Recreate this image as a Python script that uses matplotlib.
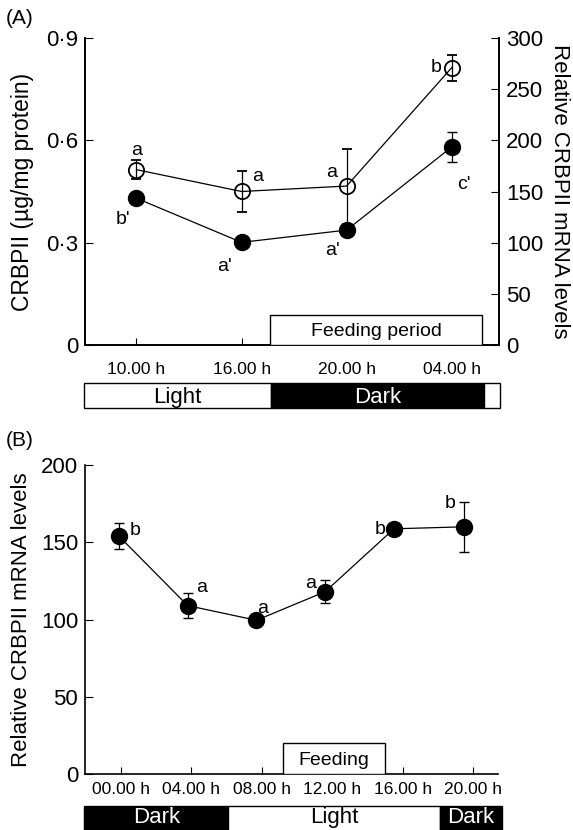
import matplotlib
matplotlib.use("Agg")
import matplotlib.pyplot as plt
from matplotlib.patches import Rectangle

plt.rcParams['font.family'] = ['Liberation Sans', 'DejaVu Sans']
plt.rcParams['font.size'] = 12

# Panel A data
a_times = ['10.00 h', '16.00 h', '20.00 h', '04.00 h']
a_protein = [0.514, 0.450, 0.466, 0.813]
a_protein_err = [0.027, 0.060, 0.110, 0.038]
a_protein_letters = ['a', 'a', 'a', 'b']
a_mrna = [143.4, 100.3, 112.3, 193.5]
a_mrna_err = [0, 0, 0, 15]
a_mrna_letters = ["b'", "a'", "a'", "c'"]
a_feeding = (1.27, 3.29, 29)          # start, end (category units), height (right axis)
a_light_dark = [(-0.5, 1.28, 'Light'), (1.28, 3.31, 'Dark'), (3.31, 3.46, '')]

# Panel B data
b_hours = [0, 4, 8, 12, 16, 20]
b_pos = [-0.1, 3.8, 7.7, 11.6, 15.5, 19.5]
b_mrna = [154, 109, 99.5, 118, 158.7, 160]
b_err = [8.5, 8.3, 0, 7.5, 0, 16]
b_letters = ['b', 'a', 'a', 'a', 'b', 'b']
b_feeding = (9.2, 15.0, 20)
b_light_dark = [(-2.05, 6.1, 'Dark'), (6.1, 18.1, 'Light'), (18.1, 21.6, 'Dark')]

W, H = 573, 830
fig = plt.figure(figsize=(W / 100, H / 100), dpi=100)


def fig_rect(x0, y0, x1, y1):
    return [x0 / W, 1 - y1 / H, (x1 - x0) / W, (y1 - y0) / H]


def day_bar(rect, xlim, segments, text_y=0.45):
    bx = fig.add_axes(rect)
    bx.set_xlim(*xlim)
    bx.set_ylim(0, 1)
    bx.axis('off')
    for x0, x1, name in segments:
        dark = name == 'Dark'
        bx.add_patch(Rectangle((x0, 0), x1 - x0, 1, facecolor='black' if dark else 'white',
                               edgecolor='black', linewidth=1, clip_on=False))
        if name:
            bx.text((x0 + x1) / 2, text_y, name, ha='center', va='center', fontsize=16,
                    color='white' if dark else 'black')
    return bx


# ---------- Panel A ----------
ax = fig.add_axes(fig_rect(85, 38, 499, 345))
ax2 = ax.twinx()
xa = list(range(len(a_times)))
xlim_a = (-0.49, 3.45)

# open circles are hollow: lines show through them
ax.errorbar(xa, a_protein, yerr=a_protein_err, color='black', lw=0.9, marker='o',
            ms=11, mfc='none', mec='black', mew=1.3, capsize=3.5, elinewidth=0.9, zorder=3)
ax2.errorbar(xa, a_mrna, yerr=a_mrna_err, color='black', lw=0.9, marker='o',
             ms=11.5, mfc='black', mec='black', capsize=3.5, elinewidth=0.9, zorder=3)

ax.set_xlim(*xlim_a)
ax.set_ylim(0, 0.9)
ax2.set_ylim(0, 300)
ax.set_yticks([0, 0.3, 0.6, 0.9])
ax.set_yticklabels(['0', '0·3', '0·6', '0·9'])
ax2.set_yticks(range(0, 301, 50))
ax.set_xticks(xa)
ax.set_xticklabels(a_times)
ax.tick_params(axis='x', direction='in', length=5, pad=12, labelsize=12.5)
ax.tick_params(axis='y', direction='in', length=6, pad=5, labelsize=16)
ax2.tick_params(axis='y', direction='in', length=6, pad=5, labelsize=16)
for a in (ax, ax2):
    a.spines['top'].set_visible(False)
    for s in a.spines.values():
        s.set_linewidth(1.2)

f0, f1, fh = a_feeding
ax2.add_patch(Rectangle((f0, 0), f1 - f0, fh, facecolor='white', edgecolor='black',
                        linewidth=1, zorder=4))
ax2.text((f0 + f1) / 2, fh * 0.45, 'Feeding period', ha='center', va='center',
         fontsize=14, zorder=5)

ax.set_ylabel('CRBPII (µg/mg protein)', fontsize=16.5, va='center')
ax.yaxis.set_label_coords(-0.152, 0.5)
ax2.set_ylabel('Relative CRBPII mRNA levels', fontsize=16, rotation=270, va='center')
ax2.yaxis.set_label_coords(1.145, 0.5)

# significance letters
a_off_open = [(0, 0.055), (0.15, 0.045), (-0.14, 0.04), (-0.15, 0.0)]
for x, y, t, (dx, dy) in zip(xa, a_protein, a_protein_letters, a_off_open):
    ax.text(x + dx, y + dy, t, ha='center', va='center', fontsize=14)
a_off_closed = [(-0.13, -21), (-0.16, -24), (-0.13, -20), (0.12, -37)]
for x, y, t, (dx, dy) in zip(xa, a_mrna, a_mrna_letters, a_off_closed):
    ax2.text(x + dx, y + dy, t, ha='center', va='center', fontsize=14)

day_bar(fig_rect(85, 383, 499, 408), xlim_a, a_light_dark, text_y=0.42)
fig.text(6 / W, 1 - 18 / H, '(A)', fontsize=15, va='center')

# ---------- Panel B ----------
bx = fig.add_axes(fig_rect(85, 465, 498, 774))
xlim_b = (-2.02, 21.4)
bx.errorbar(b_pos, b_mrna, yerr=b_err, color='black', lw=0.9, marker='o', ms=11.5,
            mfc='black', mec='black', capsize=3.5, elinewidth=0.9, zorder=3)
bx.set_xlim(*xlim_b)
bx.set_ylim(0, 200)
bx.set_yticks(range(0, 201, 50))
bx.set_xticks(b_hours)
bx.set_xticklabels([f'{h:02d}.00 h' for h in b_hours])
bx.tick_params(axis='x', direction='in', length=5, pad=6, labelsize=12.5)
bx.tick_params(axis='y', direction='in', length=6, pad=5, labelsize=16)
bx.spines['top'].set_visible(False)
bx.spines['right'].set_visible(False)
for s in bx.spines.values():
    s.set_linewidth(1.2)

g0, g1, gh = b_feeding
bx.add_patch(Rectangle((g0, 0), g1 - g0, gh, facecolor='white', edgecolor='black',
                       linewidth=1, zorder=4))
bx.text((g0 + g1) / 2, gh * 0.45, 'Feeding', ha='center', va='center', fontsize=14, zorder=5)

bx.set_ylabel('Relative CRBPII mRNA levels', fontsize=16, va='center')
bx.yaxis.set_label_coords(-0.153, 0.5)

b_off = [(0.95, 3.6), (0.78, 12), (0.37, 7.5), (-0.82, 5.6), (-0.77, -0.7), (-0.81, 14.8)]
for x, y, t, (dx, dy) in zip(b_pos, b_mrna, b_letters, b_off):
    bx.text(x + dx, y + dy, t, ha='center', va='center', fontsize=14)

day_bar(fig_rect(85, 806, 498, 833), xlim_b, b_light_dark, text_y=0.58)
fig.text(6 / W, 1 - 440 / H, '(B)', fontsize=15, va='center')

fig.savefig('out.png', dpi=100)
